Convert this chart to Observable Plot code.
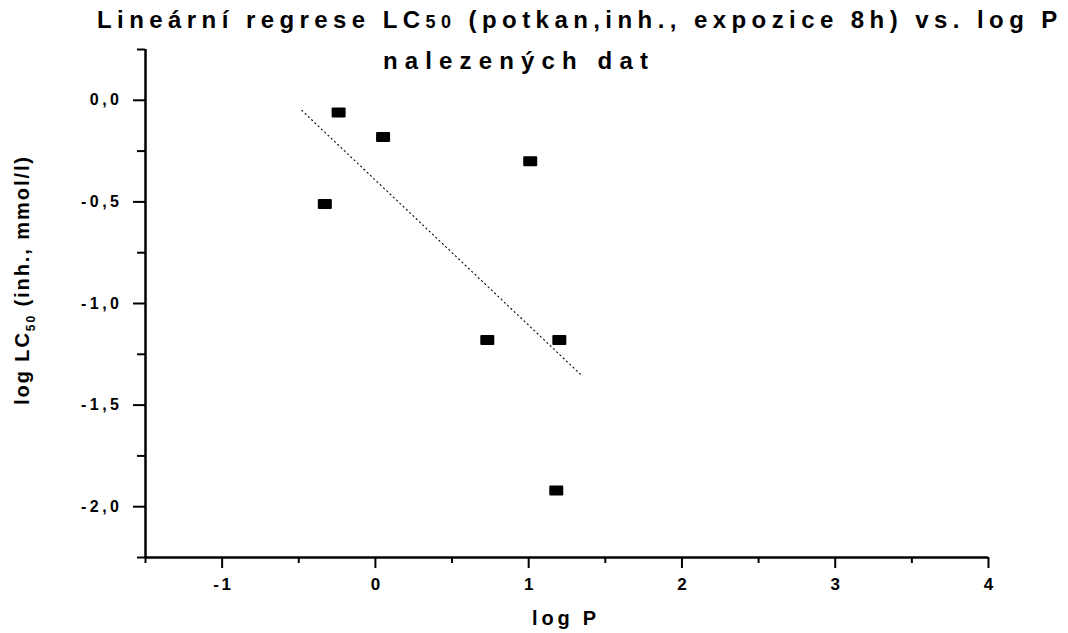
<!DOCTYPE html>
<html>
<head>
<meta charset="utf-8">
<script src="https://cdn.jsdelivr.net/npm/d3@7"></script>
<script src="https://cdn.jsdelivr.net/npm/@observablehq/plot@0.6"></script>
<style>
  html, body { margin: 0; padding: 0; background: #fff; }
  #chart { position: relative; width: 1068px; height: 633px; }
</style>
</head>
<body>
<div id="chart"></div>
<script>
// ---- data ----
const logP   = [-0.33, -0.24, 0.05, 1.01, 0.73, 1.20, 1.18];
const logLC50 = [-0.51, -0.06, -0.18, -0.30, -1.18, -1.18, -1.92];

// regression line end points as drawn in the reference
const fitX = [-0.48, 1.34];
const fitY = [-0.05, -1.35];

// axis ticks
const xTicks = [-1, 0, 1, 2, 3, 4];
const xMinor = [-1.5, -0.5, 0.5, 1.5, 2.5, 3.5];
const yTicks = [0, -0.5, -1, -1.5, -2];
const yMinor = [0.25, -0.25, -0.75, -1.25, -1.75, -2.25];
const xDomain = [-1.5, 4];
const yDomain = [-2.25, 0.25];

// texts
const titleLine1a = "Lineární regrese LC";
const titleLine1b = "50";
const titleLine1c = " (potkan,inh., expozice 8h) vs. log P";
const titleLine2 = "nalezených dat";
const xLabel = "log P";
const yLabelA = "log LC";
const yLabelSub = "50";
const yLabelB = " (inh., mmol/l)";

const points = logP.map((x, i) => ({x, y: logLC50[i]}));
const fit = fitX.map((x, i) => ({x, y: fitY[i]}));

const roundedRect = {
  draw(ctx) {
    ctx.moveTo(-6, -4); ctx.lineTo(6, -4); ctx.lineTo(6, 4); ctx.lineTo(-6, 4); ctx.closePath();
  }
};

const comma = d => d.toFixed(1).replace(".", ",").replace("-0,0", "0,0");

const FONT = "'Liberation Sans', Arial, sans-serif";

const svg = Plot.plot({
  width: 1068,
  height: 633,
  marginLeft: 145,
  marginRight: 80,
  marginTop: 49,
  marginBottom: 76,
  style: {fontFamily: FONT, color: "#000", background: "#fff", overflow: "visible"},
  x: {domain: xDomain},
  y: {domain: yDomain},
  marks: [
    Plot.axisX({ticks: xTicks, tickSize: 11, tickPadding: 9, tickFormat: d => String(d), label: null, strokeWidth: 2}),
    Plot.axisX({ticks: xMinor, tickSize: 6, text: null, label: null, strokeWidth: 2}),
    Plot.axisY({ticks: yTicks, tickSize: 12, tickPadding: 11, tickFormat: comma, label: null, strokeWidth: 2}),
    Plot.axisY({ticks: yMinor, tickSize: 8, text: null, label: null, strokeWidth: 2}),
    Plot.ruleY([yDomain[0]], {strokeWidth: 2.5}),
    Plot.ruleX([xDomain[0]], {strokeWidth: 2.5}),
    Plot.line(fit, {x: "x", y: "y", stroke: "#000", strokeWidth: 1.1, strokeDasharray: "1.1,3.4"}),
    Plot.dot(points, {x: "x", y: "y", symbol: roundedRect, fill: "#000", stroke: "#000", strokeWidth: 2, strokeLinejoin: "round"})
  ]
});

document.getElementById("chart").appendChild(svg);
const s = d3.select(svg);

// tick labels: the only text elements Plot drew (y labels carry a comma)
s.selectAll("text").each(function() {
  const isY = this.textContent.includes(",");
  d3.select(this)
    .style("font-size", isY ? "16px" : "17px")
    .style("font-weight", "bold")
    .style("font-family", FONT)
    .style("letter-spacing", isY ? "3.5px" : "2.5px")
    .attr("dx", isY ? null : 1.25);
});

// stretch a text element to a target width using letter-spacing
function fitWidth(sel, target) {
  const node = sel.node();
  const n = node.textContent.length;
  const w = node.getComputedTextLength();
  sel.attr("letter-spacing", ((target - w) / n).toFixed(2));
}

function addText(x, y, size) {
  return s.append("text")
    .attr("x", x).attr("y", y)
    .attr("text-anchor", "start")
    .attr("font-family", FONT).attr("font-weight", "bold").attr("font-size", size)
    .attr("fill", "#000");
}

// title line 1
const t1 = addText(97, 28, 24);
t1.append("tspan").text(titleLine1a);
t1.append("tspan").attr("font-size", 18).text(titleLine1b);
t1.append("tspan").text(titleLine1c);
fitWidth(t1, 966);

const t2 = addText(383, 69, 24).text(titleLine2);
fitWidth(t2, 272);

// x label
const xl = addText(532, 625, 20).text(xLabel);
fitWidth(xl, 68);

// y label (rotated)
const yl = addText(0, 0, 20).attr("transform", "translate(29,405) rotate(-90)");
yl.append("tspan").text(yLabelA);
yl.append("tspan").attr("font-size", 12).attr("dy", 6).text(yLabelSub);
yl.append("tspan").attr("dy", -6).text(yLabelB);
fitWidth(yl, 250);
</script>
</body>
</html>
